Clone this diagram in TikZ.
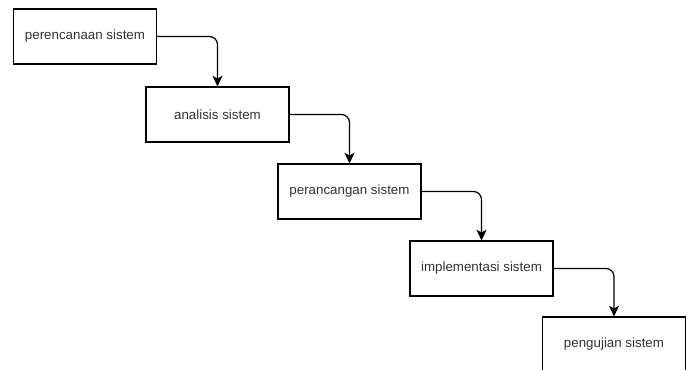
\documentclass[tikz,border=0pt]{standalone}
\usepackage{tikz}
\usetikzlibrary{arrows.meta, positioning}
\usepackage{fontspec}
\setmainfont{Liberation Sans}
\usepackage{xcolor}
\definecolor{labelgray}{HTML}{333333}

\begin{document}
\begin{tikzpicture}[
				x=0.75pt, y=-0.75pt,
				every node/.style={font=\fontsize{10}{12}\selectfont, text=labelgray},
				stagebox/.style={draw, line width=0.8pt, fill=white, minimum width=107.25pt, minimum height=41.25pt, inner sep=0pt},
				flow/.style={draw, line width=0.9pt, rounded corners=6pt, -{Stealth[length=8pt, width=7.5pt, inset=2pt]}}
				]
				\useasboundingbox (0,0) rectangle (690,370);
				
				% Nodes of the stages
				\node[stagebox] (plan) at (85,36.5) {perencanaan sistem};
				\node[stagebox] (analyze) at (217.5,114.5) {analisis sistem};
				\node[stagebox] (design) at (349.5,191.5) {perancangan sistem};
				\node[stagebox] (impl) at (481.5,268.5) {implementasi sistem};
				\node[stagebox] (test) at (614,344.5) {pengujian sistem};
				
				% Connectors
				\draw[flow] (plan.east) -| (analyze.north);
				\draw[flow] (analyze.east) -| (design.north);
				\draw[flow] (design.east) -| (impl.north);
				\draw[flow] (impl.east) -| (test.north);
				
			\end{tikzpicture}
\end{document}
